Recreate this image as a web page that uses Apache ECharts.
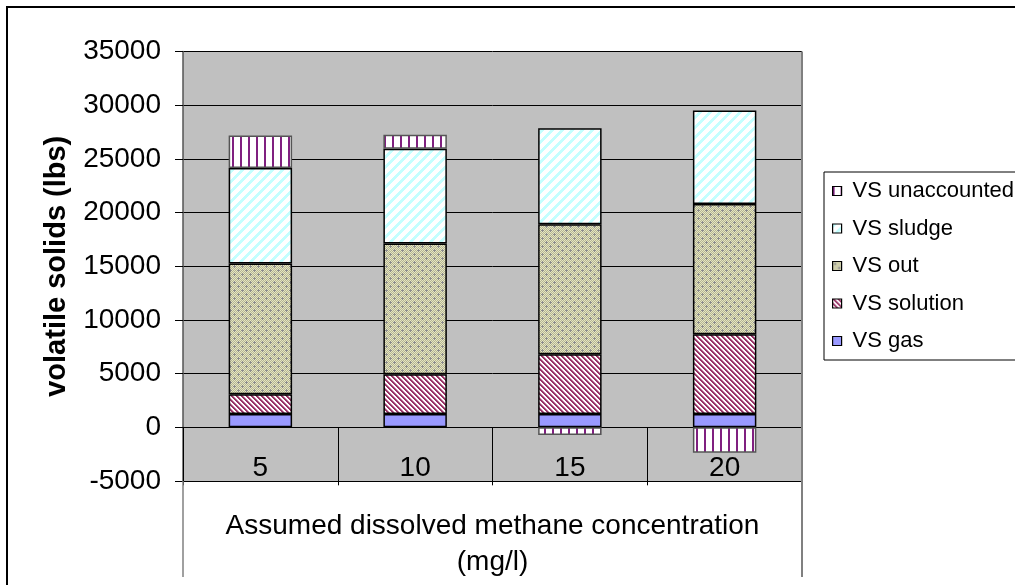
<!DOCTYPE html>
<html>
<head>
<meta charset="utf-8">
<script src="https://cdn.jsdelivr.net/npm/echarts@6/dist/echarts.min.js"></script>
<style>
html,body{margin:0;padding:0;background:#fff;}
#chart{width:1015px;height:585px;}
</style>
</head>
<body>
<div id="chart"></div>
<script>
// ---- data ----
const categories = ['5', '10', '15', '20'];
const vsGas = [1230, 1230, 1230, 1230];
const vsSolution = [1860, 3720, 5580, 7440];
const vsOut = [12160, 12160, 12090, 12120];
const vsSludge = [8895, 8835, 8960, 8715];
const vsUnaccounted = [3040, 1300, -720, -2370];
const yMin = -5000, yMax = 35000, yStep = 5000;
const xTitle = 'Assumed dissolved methane concentration\n(mg/l)';
const yTitle = 'volatile solids (lbs)';

// ---- fill patterns ----
function hex(c){return [parseInt(c.slice(1,3),16),parseInt(c.slice(3,5),16),parseInt(c.slice(5,7),16)];}
function makePattern(w, h, fn){
  const cv = document.createElement('canvas');
  cv.width = w; cv.height = h;
  const ctx = cv.getContext('2d');
  const img = ctx.createImageData(w, h);
  for (let y = 0; y < h; y++) for (let x = 0; x < w; x++) {
    const c = hex(fn(x, y));
    const i = (y * w + x) * 4;
    img.data[i] = c[0]; img.data[i+1] = c[1]; img.data[i+2] = c[2]; img.data[i+3] = 255;
  }
  ctx.putImageData(img, 0, 0);
  return {image: cv, repeat: 'repeat'};
}
const patSolution = makePattern(5, 5, (x, y) => {
  const d = ((x - y) % 5 + 5) % 5;
  return d < 2 ? '#993366' : (d === 2 ? '#c48aa8' : '#ffffff');
});
const patSludge = makePattern(10, 10, (x, y) => {
  const d = (x + y) % 10;
  return d < 4 ? '#c4ffff' : '#ffffff';
});
const patOut = makePattern(8, 8, (x, y) => {
  const cross = (cx, cy) => (x === cx && Math.abs(y - cy) <= 1) || (y === cy && Math.abs(x - cx) <= 1);
  if (cross(2, 2) || cross(6, 6)) return '#8c8c8c';
  return (x + y) % 2 === 0 ? '#e6e6c0' : '#b4b494';
});
const patUnacc = makePattern(8, 1, (x, y) => (x < 2 ? '#802080' : '#ffffff'));

const FONT = 'Liberation Sans, Arial, sans-serif';
const chart = echarts.init(document.getElementById('chart'), null, {renderer: 'canvas'});

function barSeries(name, data, color, border){
  return {
    name: name, type: 'bar', stack: 'total', data: data,
    barWidth: '41%',
    itemStyle: {color: color, borderColor: border || '#000', borderWidth: 1.5},
    emphasis: {disabled: true}
  };
}

chart.setOption({
  animation: false,
  backgroundColor: '#ffffff',
  textStyle: {fontFamily: FONT},
  grid: {
    left: 183, top: 51.5, right: 213, bottom: 104,
    containLabel: false, outerBoundsMode: 'none',
    show: true, backgroundColor: '#c0c0c0', borderWidth: 0
  },
  legend: {
    orient: 'vertical', left: 824, top: 172,
    data: ['VS unaccounted', 'VS sludge', 'VS out', 'VS solution', 'VS gas'],
    icon: 'rect', itemWidth: 9, itemHeight: 9, itemGap: 13.5,
    padding: [7, 70, 7, 8],
    backgroundColor: '#ffffff', borderColor: '#000', borderWidth: 1,
    selectedMode: false,
    itemStyle: {borderWidth: 1.2, borderColor: '#000'},
    textStyle: {fontSize: 22, color: '#000', fontFamily: FONT, lineHeight: 24, padding: [0, 0, 0, 6]}
  },
  xAxis: {
    type: 'category', data: categories,
    name: xTitle, nameLocation: 'middle', nameGap: 27,
    nameTextStyle: {fontSize: 28, color: '#000', lineHeight: 36, fontFamily: FONT},
    axisLine: {onZero: true, lineStyle: {color: '#000', width: 1}},
    axisTick: {show: true, length: 58, lineStyle: {color: '#000', width: 1}},
    axisLabel: {fontSize: 28, color: '#000', margin: -27, interval: 0, fontFamily: FONT},
    splitLine: {show: false}
  },
  yAxis: {
    type: 'value', min: yMin, max: yMax, interval: yStep,
    name: yTitle, nameLocation: 'middle', nameGap: 112, nameRotate: 90,
    nameTextStyle: {fontSize: 29, fontWeight: 'bold', color: '#000', fontFamily: FONT},
    axisLine: {show: true, lineStyle: {color: '#555', width: 1.5}},
    axisTick: {show: true, length: 8, lineStyle: {color: '#000', width: 1}},
    axisLabel: {fontSize: 28, color: '#000', margin: 22, fontFamily: FONT,
                formatter: (v) => String(v)},
    splitLine: {show: true, lineStyle: {color: '#000', width: 1}}
  },
  graphic: [
    {type: 'rect', shape: {x: 7, y: 7, width: 1200, height: 800},
     style: {fill: 'none', stroke: '#000', lineWidth: 2}, z: 100, silent: true},
    {type: 'line', shape: {x1: 183, y1: 481, x2: 183, y2: 577},
     style: {stroke: '#808080', lineWidth: 1.5}, z: 100, silent: true},
    {type: 'line', shape: {x1: 802, y1: 51.5, x2: 802, y2: 577},
     style: {stroke: '#808080', lineWidth: 2}, z: 100, silent: true}
  ],
  series: [
    barSeries('VS gas', vsGas, '#9999ff'),
    barSeries('VS solution', vsSolution, patSolution),
    barSeries('VS out', vsOut, patOut),
    barSeries('VS sludge', vsSludge, patSludge),
    barSeries('VS unaccounted', vsUnaccounted, patUnacc, '#555')
  ]
});
</script>
</body>
</html>
